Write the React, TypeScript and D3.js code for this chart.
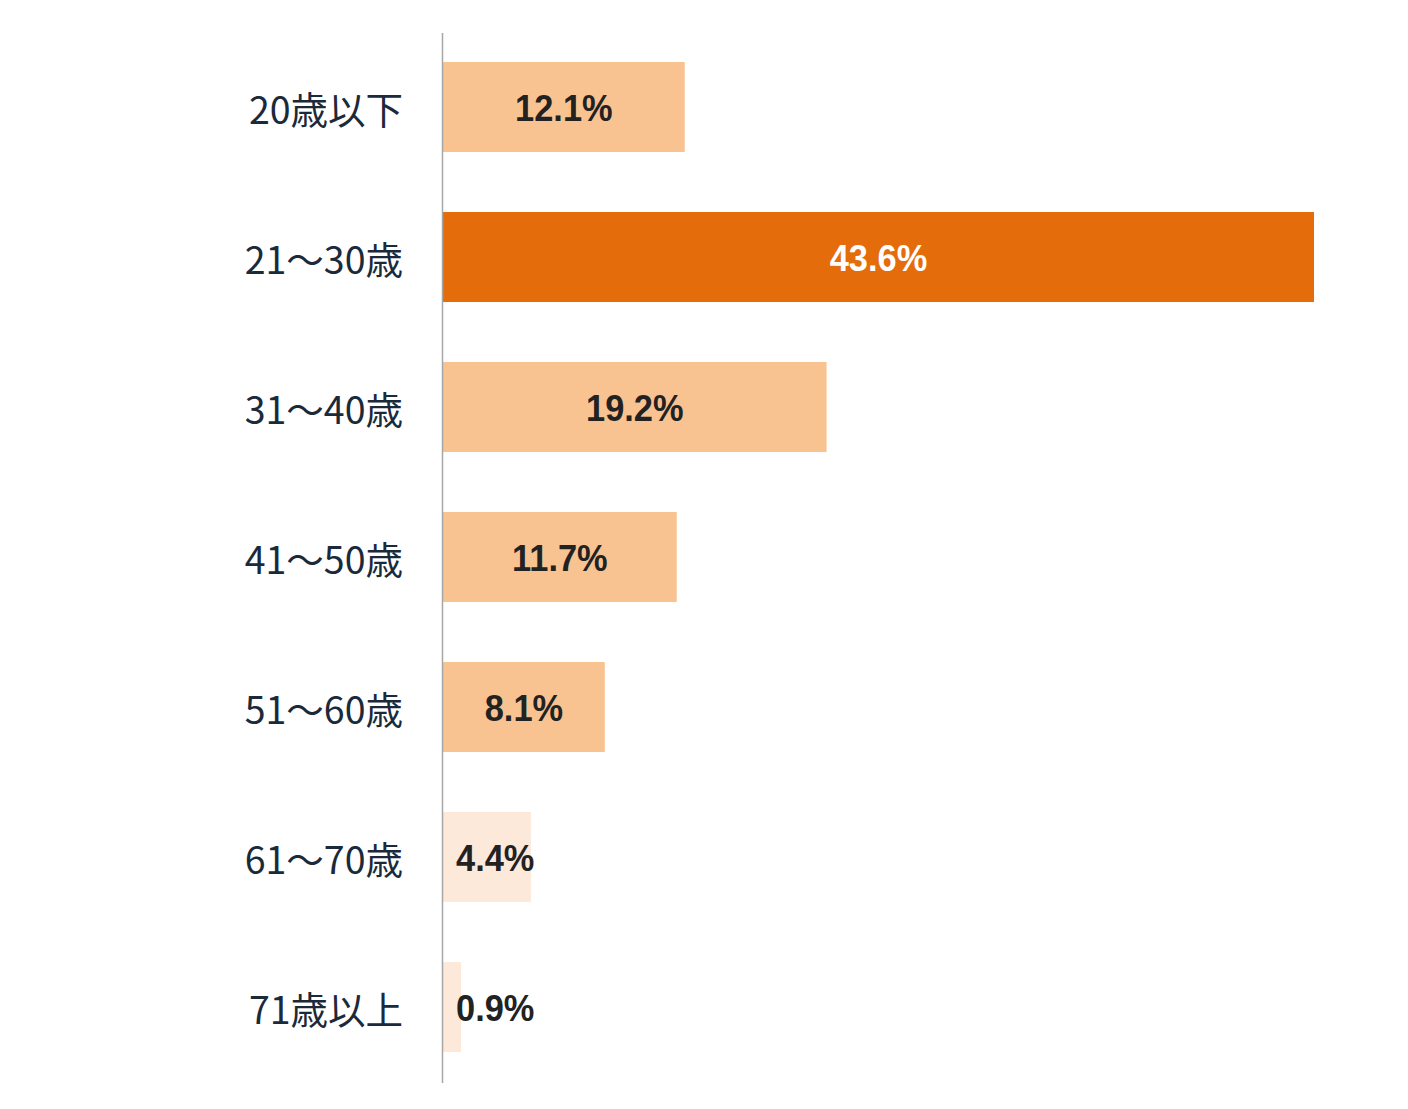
import React from "react";
import * as d3 from "d3";

const categories = ["20歳以下", "21〜30歳", "31〜40歳", "41〜50歳", "51〜60歳", "61〜70歳", "71歳以上"];
const values = [12.1, 43.6, 19.2, 11.7, 8.1, 4.4, 0.9];
const shade = ["mid", "dark", "mid", "mid", "mid", "light", "light"];

const W = 1408;
const H = 1109;

export default function App() {
  const x = d3.scaleLinear().domain([0, 43.6]).range([443, 1314]);
  const y = d3.scaleBand<string>().domain(categories).range([32, 1082]).paddingInner(0.4).paddingOuter(0.2);
  const fill: Record<string, string> = { mid: "#F9C291", dark: "#E46C0A", light: "#FDE9DA" };
  const sx = 0.93;
  return (
    <svg width={W} height={H} style={{ position: "absolute", left: 0, top: 0, background: "#fff" }}>
      {categories.map((c, i) => {
        const y0 = y(c)!;
        const bw = x(values[i]) - x(0);
        const cy = y0 + y.bandwidth() / 2;
        const small = values[i] < 5;
        const tx = small ? x(0) + 13 : x(0) + bw / 2;
        return (
          <g key={c}>
            <rect x={x(0)} y={y0} width={bw} height={y.bandwidth()} fill={fill[shade[i]]} />
            <text
              x={403}
              y={cy}
              textAnchor="end"
              dominantBaseline="central"
              fontFamily="'Noto Sans CJK JP', 'Noto Sans', sans-serif"
              fontSize={37.5}
              fontWeight={400}
              fill="#1A2A3A"
            >
              {c}
            </text>
            <g transform={`translate(${tx},${cy}) scale(${sx},1)`}>
              <text
                x={0}
                y={2}
                textAnchor={small ? "start" : "middle"}
                dominantBaseline="central"
                fontFamily="'Liberation Sans', Arial, sans-serif"
                fontWeight="bold"
                fontSize={37}
                fill={shade[i] === "dark" ? "#FFFFFF" : "#222222"}
              >
                {values[i].toFixed(1)}%
              </text>
            </g>
          </g>
        );
      })}
      <line x1={442.5} x2={442.5} y1={33} y2={1083} stroke="#A6A6A6" strokeWidth={1.5} />
    </svg>
  );
}
